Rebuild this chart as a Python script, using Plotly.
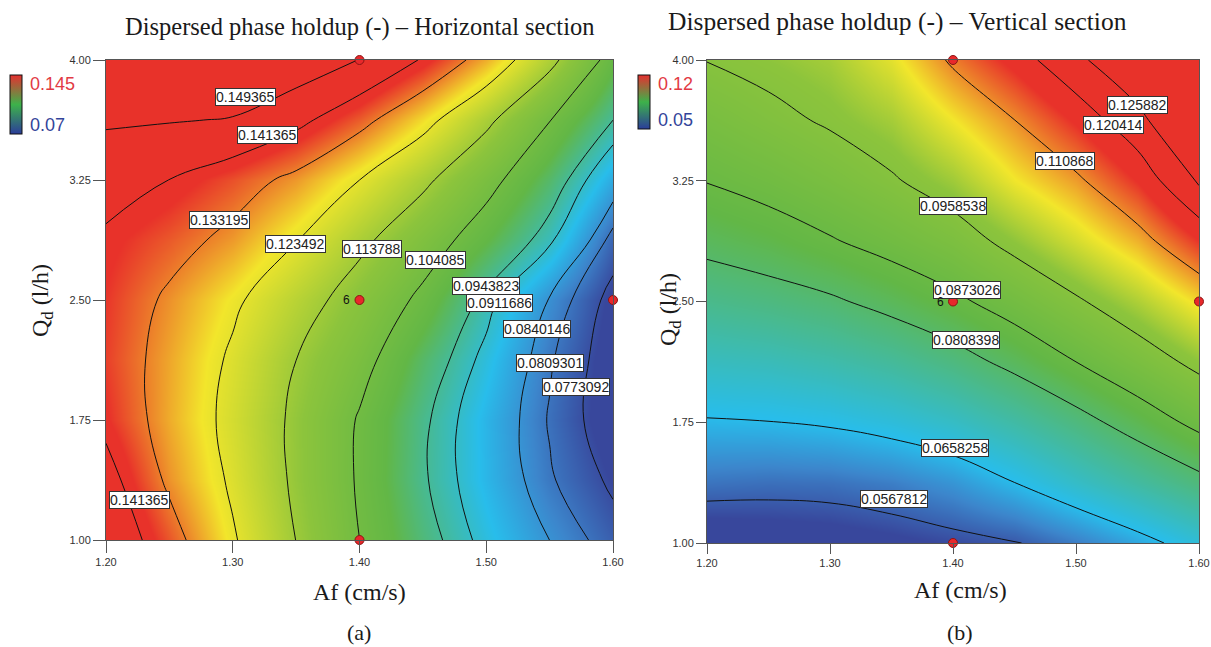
import plotly.graph_objects as go

# ---------------- data ----------------
af_grid = [1.20, 1.25, 1.30, 1.35, 1.40, 1.45, 1.50, 1.55, 1.60]
qd_grid = [1.000, 1.375, 1.750, 2.125, 2.500, 2.875, 3.250, 3.625, 4.000]

# (a) horizontal section, rows follow qd_grid, columns follow af_grid
holdup_h = [
    [0.1480, 0.1364, 0.1243, 0.1137, 0.1041, 0.0965, 0.0897, 0.0840, 0.0790],
    [0.1443, 0.1318, 0.1223, 0.1124, 0.1033, 0.0950, 0.0880, 0.0814, 0.0765],
    [0.1395, 0.1299, 0.1212, 0.1122, 0.1035, 0.0953, 0.0878, 0.0806, 0.0745],
    [0.1380, 0.1303, 0.1223, 0.1138, 0.1065, 0.0977, 0.0898, 0.0814, 0.0748],
    [0.1387, 0.1319, 0.1249, 0.1175, 0.1101, 0.1025, 0.0929, 0.0837, 0.0758],
    [0.1402, 0.1361, 0.1312, 0.1238, 0.1156, 0.1079, 0.1003, 0.0920, 0.0795],
    [0.1445, 0.1413, 0.1367, 0.1313, 0.1235, 0.1154, 0.1065, 0.0975, 0.0866],
    [0.1503, 0.1498, 0.1490, 0.1435, 0.1357, 0.1262, 0.1155, 0.1043, 0.0944],
    [0.1565, 0.1560, 0.1555, 0.1545, 0.1492, 0.1407, 0.1297, 0.1160, 0.1010],
]
# (b) vertical section
holdup_v = [
    [0.0520, 0.0525, 0.0530, 0.0540, 0.0552, 0.0564, 0.0597, 0.0638, 0.0685],
    [0.0589, 0.0585, 0.0587, 0.0598, 0.0620, 0.0658, 0.0702, 0.0746, 0.0790],
    [0.0654, 0.0657, 0.0665, 0.0681, 0.0705, 0.0742, 0.0786, 0.0836, 0.0890],
    [0.0712, 0.0719, 0.0733, 0.0754, 0.0784, 0.0825, 0.0873, 0.0923, 0.0976],
    [0.0770, 0.0783, 0.0800, 0.0827, 0.0860, 0.0902, 0.0950, 0.1001, 0.1061],
    [0.0825, 0.0843, 0.0868, 0.0896, 0.0928, 0.0978, 0.1030, 0.1086, 0.1164],
    [0.0875, 0.0895, 0.0921, 0.0952, 0.0990, 0.1051, 0.1098, 0.1167, 0.1267],
    [0.0917, 0.0942, 0.0966, 0.0995, 0.1052, 0.1108, 0.1171, 0.1241, 0.1339],
    [0.0960, 0.0977, 0.0995, 0.1042, 0.1118, 0.1179, 0.1246, 0.1310, 0.1370],
]

levels_h = [0.149365, 0.141365, 0.133195, 0.123492, 0.113788, 0.104085,
            0.0943823, 0.0911686, 0.0840146, 0.0809301, 0.0773092]
levels_v = [0.0567812, 0.0658258, 0.0808398, 0.0873026, 0.0958538,
            0.110868, 0.120414, 0.125882]

# contour label texts and where they sit (Af, Qd)
labels_h = ["0.149365", "0.141365", "0.133195", "0.123492", "0.113788", "0.104085",
            "0.0943823", "0.0911686", "0.0840146", "0.0809301", "0.0773092", "0.141365"]
labels_h_af = [1.3100, 1.3275, 1.2895, 1.3495, 1.4095, 1.4600, 1.4998, 1.5105, 1.5400, 1.5503, 1.5705, 1.2265]
labels_h_qd = [3.769, 3.531, 2.997, 2.850, 2.819, 2.747, 2.588, 2.484, 2.316, 2.106, 1.959, 1.253]

labels_v = ["0.125882", "0.120414", "0.110868", "0.0958538", "0.0873026",
            "0.0808398", "0.0658258", "0.0567812"]
labels_v_af = [1.5496, 1.5305, 1.4907, 1.4004, 1.4114, 1.4106, 1.4016, 1.3520]
labels_v_qd = [3.7236, 3.5932, 3.3758, 3.0932, 2.5745, 2.2609, 1.5901, 1.2733]

# design points
design_af = [1.4, 1.4, 1.6, 1.4]
design_qd = [4.0, 1.0, 2.5, 2.5]

x_ticks = [1.20, 1.30, 1.40, 1.50, 1.60]
y_ticks = [1.00, 1.75, 2.50, 3.25, 4.00]

legend_h = ("0.145", "0.07")
legend_v = ("0.12", "0.05")
range_h = (0.07, 0.145)
range_v = (0.05, 0.12)

# ---------------- styling ----------------
W, H = 1211, 647
SERIF = "Liberation Serif, Times New Roman, serif"
SANS = "Liberation Sans, Arial, sans-serif"
NARROW = "Liberation Sans Narrow, Liberation Sans, Arial, sans-serif"

BLUE, MIDBLUE, CYAN = "#38479C", "#3C86CC", "#28BDEB"
GREEN, YGREEN, YELLOW, RED = "#62B746", "#8CC43C", "#F2E62B", "#E8322A"
cs_h = [[0.0, BLUE], [0.09, BLUE], [0.17, MIDBLUE], [0.25, CYAN], [0.40, GREEN],
        [0.55, YGREEN], [0.74, YELLOW], [0.92, RED], [1.0, RED]]
cs_v = [[0.0, BLUE], [0.07, BLUE], [0.15, MIDBLUE], [0.23, CYAN], [0.50, GREEN],
        [0.68, YGREEN], [0.79, YELLOW], [0.95, RED], [1.0, RED]]
legend_cs = [[0.0, "#2B3D9A"], [0.5, "#3DB24A"], [1.0, "#E53030"]]
black_cs = [[0, "#111111"], [1, "#111111"]]


def fx(px):
    return px / W


def fy(py):
    return 1 - py / H


fig = go.Figure()

panels = [
    dict(z=holdup_h, rng=range_h, cs=cs_h, levels=levels_h, xa="x", ya="y",
         labels=labels_h, laf=labels_h_af, lqd=labels_h_qd,
         leg=legend_h, cb_x=10, cb_top=75, cb_len=59),
    dict(z=holdup_v, rng=range_v, cs=cs_v, levels=levels_v, xa="x2", ya="y2",
         labels=labels_v, laf=labels_v_af, lqd=labels_v_qd,
         leg=legend_v, cb_x=638, cb_top=75, cb_len=54),
]

annotations = []
for p in panels:
    fig.add_trace(go.Heatmap(
        x=af_grid, y=qd_grid, z=p["z"], colorscale=p["cs"],
        zmin=p["rng"][0], zmax=p["rng"][1], zsmooth="best",
        showscale=False, hoverinfo="skip", xaxis=p["xa"], yaxis=p["ya"]))
    for lv in p["levels"]:
        fig.add_trace(go.Contour(
            x=af_grid, y=qd_grid, z=p["z"], autocontour=False,
            contours=dict(start=lv, end=lv, size=0.01, coloring="lines", showlabels=False),
            colorscale=black_cs, showscale=False,
            line=dict(width=1, smoothing=1.2),
            hoverinfo="skip", xaxis=p["xa"], yaxis=p["ya"]))
    fig.add_trace(go.Scatter(
        x=design_af, y=design_qd, mode="markers", cliponaxis=False,
        marker=dict(size=9, color="#E8282B", line=dict(color="#8A1515", width=1)),
        hoverinfo="skip", showlegend=False, xaxis=p["xa"], yaxis=p["ya"]))
    # legend colour bar
    fig.add_trace(go.Scatter(
        x=[None], y=[None], mode="markers", showlegend=False, hoverinfo="skip",
        xaxis=p["xa"], yaxis=p["ya"],
        marker=dict(color=[0], colorscale=legend_cs, cmin=0, cmax=1, showscale=True,
                    colorbar=dict(x=fx(p["cb_x"]), xanchor="left", xpad=0, ypad=0,
                                  y=fy(p["cb_top"]), yanchor="top",
                                  lenmode="pixels", len=p["cb_len"],
                                  thicknessmode="pixels", thickness=12,
                                  outlinewidth=1, outlinecolor="#111111",
                                  showticklabels=False, ticks=""))))
    xr = p["xa"]
    yr = p["ya"]
    for t, a, q in zip(p["labels"], p["laf"], p["lqd"]):
        annotations.append(dict(
            x=a, y=q, xref=xr, yref=yr, text=t, showarrow=False,
            font=dict(family=SANS, size=14, color="#222222"),
            bgcolor="white", bordercolor="#333333", borderwidth=1, borderpad=0))
    annotations.append(dict(
        x=design_af[3], y=design_qd[3], xref=xr, yref=yr, text="6", showarrow=False,
        xshift=-13, font=dict(family=SANS, size=12, color="#111111")))
    # legend text
    annotations.append(dict(
        x=fx(p["cb_x"] + 18), y=fy(p["cb_top"] + 9), xref="paper", yref="paper",
        xanchor="left", yanchor="middle", text=p["leg"][0], showarrow=False,
        font=dict(family=SANS, size=18, color="#E23A44")))
    annotations.append(dict(
        x=fx(p["cb_x"] + 18), y=fy(p["cb_top"] + p["cb_len"] - 9), xref="paper", yref="paper",
        xanchor="left", yanchor="middle", text=p["leg"][1], showarrow=False,
        font=dict(family=SANS, size=18, color="#33449A")))

# titles and axis titles
text_items = [
    ("Dispersed phase holdup (-) \u2013 Horizontal section", 359, 27, 0, 24.5),
    ("Dispersed phase holdup (-) \u2013 Vertical section", 897, 22, 0, 25.5),
    ("Af (cm/s)", 359, 592, 0, 24),
    ("Af (cm/s)", 960, 590, 0, 24),
    ("Q<sub>d</sub> (l/h)", 42, 300, -90, 24),
    ("Q<sub>d</sub> (l/h)", 670, 310, -90, 24),
    ("(a)", 359, 632, 0, 22),
    ("(b)", 960, 632, 0, 22),
]
for txt, px, py, ang, sz in text_items:
    annotations.append(dict(
        x=fx(px), y=fy(py), xref="paper", yref="paper", text=txt, showarrow=False,
        textangle=ang, xanchor="center", yanchor="middle",
        font=dict(family=SERIF, size=sz, color="#1a1a1a")))

axis_common = dict(showgrid=False, zeroline=False, showline=True, linecolor="#555555",
                   linewidth=1, mirror=True, ticks="outside", tickcolor="#555555",
                   ticklabeloverflow="allow",
                   tickfont=dict(family=NARROW, size=11, color="#333333"))

fig.update_layout(
    width=W, height=H,
    margin=dict(l=0, r=0, t=0, b=0, autoexpand=False),
    paper_bgcolor="white", plot_bgcolor="white",
    showlegend=False,
    annotations=annotations,
    xaxis=dict(domain=[fx(106), fx(613)], range=[1.2, 1.6], anchor="y",
               tickvals=x_ticks, ticktext=[f"{v:.2f}" for v in x_ticks], ticklen=12, **axis_common),
    yaxis=dict(domain=[fy(540), fy(60)], range=[1.0, 4.0], anchor="x",
               tickvals=y_ticks, ticktext=[f"{v:.2f}" for v in y_ticks], ticklen=12, **axis_common),
    xaxis2=dict(domain=[fx(707), fx(1199)], range=[1.2, 1.6], anchor="y2",
                tickvals=x_ticks, ticktext=[f"{v:.2f}" for v in x_ticks], ticklen=10, **axis_common),
    yaxis2=dict(domain=[fy(543), fy(60)], range=[1.0, 4.0], anchor="x2",
                tickvals=y_ticks, ticktext=[f"{v:.2f}" for v in y_ticks], ticklen=10, **axis_common),
)

fig.write_html(
    "out.html",
    config={"displayModeBar": False},
    post_script="document.body.style.margin='0';document.body.style.overflow='hidden';",
)
